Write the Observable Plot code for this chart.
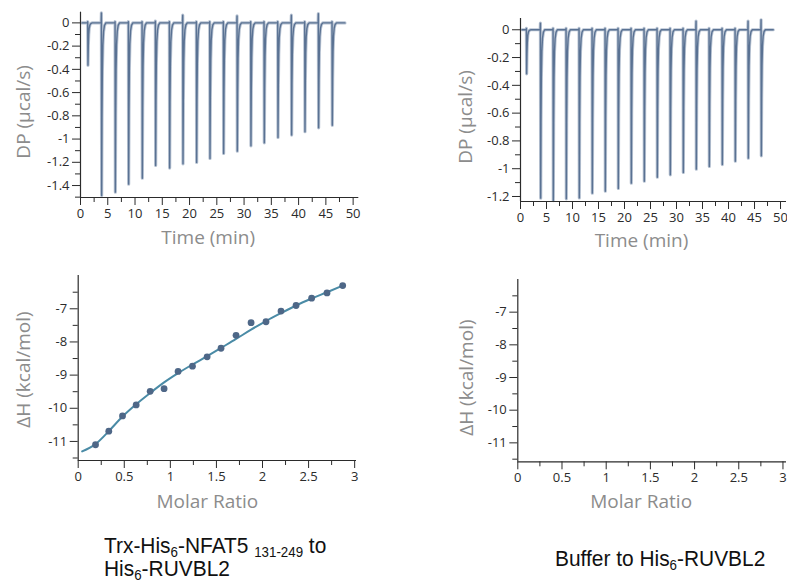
<!DOCTYPE html>
<html><head><meta charset="utf-8">
<script src="https://cdn.jsdelivr.net/npm/d3@7"></script>
<script src="https://cdn.jsdelivr.net/npm/@observablehq/plot@0.6"></script>
<style>
body{margin:0;background:#fff;}
#root{position:relative;width:787px;height:584px;overflow:hidden;background:#fff;}
.panel{position:absolute;}
.cap{position:absolute;font-family:"Liberation Sans",Arial,sans-serif;font-size:22px;color:#111;line-height:23.4px;white-space:nowrap;transform-origin:0 0;transform:scaleX(0.95);}
.sb{font-size:14px;position:relative;top:3.5px;line-height:14px;}
</style></head>
<body><div id="root"></div>
<script>
// ---------- data ----------
// Top-left thermogram (Trx-His6-NFAT5 into His6-RUVBL2)
const tlTimes  = [1.34, 3.85, 6.36, 8.80, 11.31, 13.75, 16.32, 18.77, 21.27, 23.72, 26.22, 28.73, 31.23, 33.68, 36.19, 38.69, 41.14, 43.64, 46.15];
const tlPeaks  = [-0.365, -1.486, -1.457, -1.388, -1.337, -1.227, -1.250, -1.213, -1.201, -1.167, -1.124, -1.104, -1.058, -1.032, -0.986, -0.966, -0.937, -0.903, -0.882];
const tlSpikes = [0.01, 0.086, 0.01, 0.01, 0.01, 0.015, 0.01, 0.066, 0.01, 0.01, 0.01, 0.06, 0.01, 0.01, 0.01, 0.066, 0.01, 0.08, 0.01];
const tlSpan   = [0.3, 48.5];
// Top-right thermogram (buffer into His6-RUVBL2)
const trTimes  = [1.15, 3.85, 6.28, 8.78, 11.28, 13.78, 16.28, 18.78, 21.28, 23.78, 26.28, 28.78, 31.28, 33.78, 36.28, 38.78, 41.28, 43.78, 46.28];
const trPeaks  = [-0.317, -1.212, -1.229, -1.217, -1.210, -1.176, -1.162, -1.142, -1.104, -1.090, -1.061, -1.044, -1.027, -1.003, -0.984, -0.970, -0.946, -0.924, -0.907];
const trSpikes = [0.01, 0.048, 0.01, 0.01, 0.01, 0.01, 0.01, 0.01, 0.01, 0.01, 0.01, 0.01, 0.01, 0.062, 0.01, 0.01, 0.01, 0.062, 0.072];
const trSpan   = [0.3, 48.6];
// peak recovery profile (minutes after injection, fraction of depth)
const recDt   = [0.03, 0.09, 0.16, 0.25, 0.38, 0.55, 0.8];
const recFrac = [1, 0.55, 0.28, 0.13, 0.05, 0.015, 0];

// Bottom-left integrated heats
const ratio = [0.188, 0.332, 0.481, 0.629, 0.781, 0.932, 1.084, 1.240, 1.399, 1.550, 1.713, 1.876, 2.038, 2.201, 2.364, 2.533, 2.700, 2.870];
const dH    = [-11.10, -10.69, -10.23, -9.90, -9.49, -9.41, -8.89, -8.73, -8.45, -8.19, -7.80, -7.42, -7.39, -7.07, -6.90, -6.68, -6.52, -6.30];
const fitX  = [0.043, 0.188, 0.332, 0.481, 0.629, 0.781, 0.932, 1.084, 1.240, 1.399, 1.550, 1.713, 1.876, 2.038, 2.201, 2.364, 2.533, 2.700, 2.870];
const fitY  = [-11.30, -11.08, -10.69, -10.25, -9.88, -9.54, -9.22, -8.94, -8.68, -8.43, -8.18, -7.91, -7.63, -7.37, -7.13, -6.90, -6.69, -6.50, -6.30];

// ticks
const dpTicksL = [0, -0.2, -0.4, -0.6, -0.8, -1, -1.2, -1.4];
const dpMinorL = [-0.1, -0.3, -0.5, -0.7, -0.9, -1.1, -1.3, -1.5];
const dpTicksR = [0, -0.2, -0.4, -0.6, -0.8, -1, -1.2];
const dpMinorR = [-0.1, -0.3, -0.5, -0.7, -0.9, -1.1];
const timeTicks = [0, 5, 10, 15, 20, 25, 30, 35, 40, 45, 50];
const timeMinor = [2.5, 7.5, 12.5, 17.5, 22.5, 27.5, 32.5, 37.5, 42.5, 47.5];
const dhTicks = [-7, -8, -9, -10, -11];
const dhMinor = [-6.5, -7.5, -8.5, -9.5, -10.5, -11.5];
const mrTicks = [0, 0.5, 1, 1.5, 2, 2.5, 3];
const mrMinor = [0.25, 0.75, 1.25, 1.75, 2.25, 2.75];

// ---------- helpers ----------
const AX = "#2b2b2b", LBL = "#8c8c8c";
const TRACE = "#5a7293", HALO = "#b9c4d3", DOT = "#4e6787", FIT = "#4a8ba6";

function trace(times, peaks, spikes, span) {
  const pts = [{t: span[0], v: 0}];
  times.forEach((t, i) => {
    pts.push({t: t - 0.06, v: 0});
    pts.push({t: t - 0.02, v: spikes[i]});
    recDt.forEach((dt, j) => pts.push({t: t + dt, v: peaks[i] * recFrac[j]}));
  });
  pts.push({t: span[1], v: 0});
  return pts;
}

function axes(o) {
  return [
    Plot.axisY({ticks: o.yMinor, tickSize: 5, tickPadding: 3, tickFormat: () => "", label: null, color: AX}),
    Plot.axisY({ticks: o.yTicks, tickSize: 8, tickPadding: 3, tickFormat: d => String(d), label: null, color: AX, fontSize: 13}),
    Plot.axisX({ticks: o.xMinor, tickSize: 5, tickPadding: 3, tickFormat: () => "", label: null, color: AX}),
    Plot.axisX({ticks: o.xTicks, tickSize: 8, tickPadding: 3, tickFormat: d => String(d), label: null, color: AX, fontSize: 13}),
    Plot.ruleX([o.xd[0]], {stroke: AX, strokeWidth: 1.2}),
    Plot.ruleY([o.yd[0]], {stroke: AX, strokeWidth: 1.2}),
    Plot.text([o.yLabel], {frameAnchor: "left", textAnchor: "middle", lineAnchor: "middle", dx: o.ylx, dy: o.yly, rotate: -90, fontSize: 19, fill: LBL, fontFamily: "Open Sans"}),
    Plot.text([o.xLabel], {frameAnchor: "bottom", textAnchor: "middle", lineAnchor: "middle", dx: o.xlx, dy: o.xly, fontSize: 19, fill: LBL, fontFamily: "Open Sans"})
  ];
}

function panel(o, marks) {
  const p = Plot.plot({
    width: o.w, height: o.h,
    marginLeft: o.ml, marginRight: o.mr, marginTop: o.mt, marginBottom: o.mb,
    x: {domain: o.xd}, y: {domain: o.yd},
    style: {fontFamily: "Open Sans", fontSize: "13px", color: AX, background: "transparent", overflow: "visible"},
    marks: [...marks, ...axes(o)]
  });
  const d = document.createElement("div");
  d.className = "panel";
  d.style.left = o.left + "px"; d.style.top = o.top + "px";
  d.appendChild(p);
  document.getElementById("root").appendChild(d);
}

// ---------- panels ----------
const tl = {left: 0, top: 0, w: 390, h: 260, ml: 80, mr: 31.7, mt: 11.7, mb: 63,
  xd: [0, 51.04], yd: [-1.503, 0.092], yTicks: dpTicksL, yMinor: dpMinorL, xTicks: timeTicks, xMinor: timeMinor,
  yLabel: "DP (µcal/s)", xLabel: "Time (min)", ylx: -57, yly: 7, xlx: -11.5, xly: 40};
const trd = trace(tlTimes, tlPeaks, tlSpikes, tlSpan);
panel(tl, [
  Plot.line(trd, {x: "t", y: "v", stroke: HALO, strokeWidth: 3.2}),
  Plot.line(trd, {x: "t", y: "v", stroke: TRACE, strokeWidth: 1.4})
]);

const tr = {left: 400, top: 0, w: 387, h: 260, ml: 120, mr: 1, mt: 18, mb: 59,
  xd: [0, 51.15], yd: [-1.236, 0.081], yTicks: dpTicksR, yMinor: dpMinorR, xTicks: timeTicks, xMinor: timeMinor,
  yLabel: "DP (µcal/s)", xLabel: "Time (min)", ylx: -55, yly: 7, xlx: -12, xly: 39};
const trd2 = trace(trTimes, trPeaks, trSpikes, trSpan);
panel(tr, [
  Plot.line(trd2, {x: "t", y: "v", stroke: HALO, strokeWidth: 3.2}),
  Plot.line(trd2, {x: "t", y: "v", stroke: TRACE, strokeWidth: 1.4})
]);

const bl = {left: 0, top: 260, w: 380, h: 260, ml: 77.7, mr: 24, mt: 15, mb: 60,
  xd: [0, 3.02], yd: [-11.575, -5.996], yTicks: dhTicks, yMinor: dhMinor, xTicks: mrTicks, xMinor: mrMinor,
  yLabel: "ΔH (kcal/mol)", xLabel: "Molar Ratio", ylx: -54.4, yly: 1.5, xlx: -10, xly: 41.7};
panel(bl, [
  Plot.line(fitX.map((x, i) => ({x, y: fitY[i]})), {x: "x", y: "y", stroke: FIT, strokeWidth: 2, curve: "monotone-x"}),
  Plot.dot(ratio.map((x, i) => ({x, y: dH[i]})), {x: "x", y: "y", r: 3.4, fill: DOT, stroke: "none"})
]);

const br = {left: 400, top: 260, w: 387, h: 260, ml: 117.3, mr: 1, mt: 19, mb: 58.7,
  xd: [0, 3.04], yd: [-11.58, -6.0], yTicks: dhTicks, yMinor: dhMinor, xTicks: mrTicks, xMinor: mrMinor,
  yLabel: "ΔH (kcal/mol)", xLabel: "Molar Ratio", ylx: -51, yly: 7, xlx: -11, xly: 40.5};
panel(br, []);

// ---------- captions ----------
const root = document.getElementById("root");
const c1 = document.createElement("div");
c1.className = "cap"; c1.style.left = "104px"; c1.style.top = "534px";
c1.innerHTML = 'Trx-His<span class="sb">6</span>-NFAT5 <span class="sb">131-249</span> to<br>His<span class="sb">6</span>-RUVBL2';
root.appendChild(c1);
const c2 = document.createElement("div");
c2.className = "cap"; c2.style.left = "555px"; c2.style.top = "547px";
c2.innerHTML = 'Buffer to His<span class="sb">6</span>-RUVBL2';
root.appendChild(c2);
</script>
</body></html>
